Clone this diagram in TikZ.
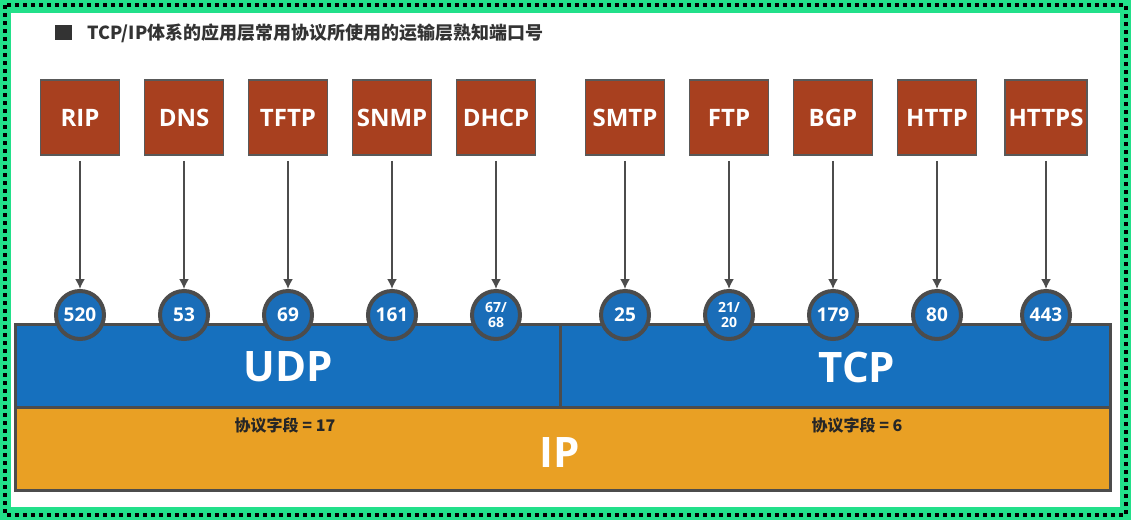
\documentclass[tikz,border=0pt]{standalone}
\usepackage{fontspec}
\setmainfont{Open Sans}
\newfontfamily\cjk{Noto Sans CJK SC}
\begin{document}
\begin{tikzpicture}[x=1pt,y=-1pt,
  proto/.style={draw=gray!70!black,line width=1.5pt,fill=protored,minimum width=79pt,minimum height=75pt,text=white,font=\bfseries\fontsize{24}{24}\selectfont},
  port/.style={circle,draw=gray!60!black,line width=4pt,fill=portblue,minimum size=48pt,inner sep=0pt,text=white,font=\bfseries\fontsize{19}{19}\selectfont,align=center},
  portsm/.style={port,font=\bfseries\fontsize{14}{15}\selectfont},
  arr/.style={draw=gray!60!black,line width=1.8pt,-{Latex[length=10pt,width=10pt]}},
  band/.style={draw=gray!60!black,line width=3pt}]
\usetikzlibrary{arrows.meta}
\definecolor{protored}{HTML}{A8401F}
\definecolor{portblue}{HTML}{1A6DB8}
\definecolor{udpblue}{HTML}{1670BE}
\definecolor{iporange}{HTML}{E9A024}
\definecolor{frameg}{HTML}{22E08A}
\useasboundingbox (0,0) rectangle (1131,520);
\fill[frameg] (0,0) rectangle (1131,520);
\draw[black,line width=4pt,dash pattern=on 4pt off 4pt] (5,5) rectangle (1126,515);
\fill[white] (11,13) rectangle (1120,507);
\fill[gray!40!black] (55,25) rectangle (72,40);
\node[anchor=west,text=gray!40!black,font=\cjk\bfseries\fontsize{18}{18}\selectfont] (title) at (84,33) {TCP/IP体系的应用层常用协议所使用的运输层熟知端口号};
% bands
\node[band,fill=iporange,minimum width=1095pt,minimum height=83pt,inner sep=0pt] (ip) at (562.5,448.5) {};
\node[band,fill=udpblue,minimum width=545pt,minimum height=83pt,inner sep=0pt] (udp) at (287.5,365.5) {};
\node[band,fill=udpblue,minimum width=550pt,minimum height=83pt,inner sep=0pt] (tcp) at (835,365.5) {};
\node[text=white,font=\bfseries\fontsize{42}{42}\selectfont] (udpt) at (288,367) {UDP};
\node[text=white,font=\bfseries\fontsize{42}{42}\selectfont] (tcpt) at (857,367) {TCP};
\node[text=white,font=\bfseries\fontsize{42}{42}\selectfont] (ipt) at (560,452) {IP};
\node[text=black!85,font=\cjk\bfseries\fontsize{16}{16}\selectfont] (p17) at (285,425) {协议字段 = 17};
\node[text=black!85,font=\cjk\bfseries\fontsize{16}{16}\selectfont] (p6) at (857,425) {协议字段 = 6};
% protocols
\foreach \n/\x/\t/\p/\s in {a/80/RIP/520/port,b/184/DNS/53/port,c/288/TFTP/69/port,d/392/SNMP/161/port,e/496/DHCP/{67/\\68}/portsm,f/625/SMTP/25/port,g/729/FTP/{21/\\20}/portsm,h/833/BGP/179/port,i/937/HTTP/80/port,j/1046/HTTPS/443/port}{
  \node[proto] (\n) at (\x,117.5) {\t};
  \node[\s] (\n p) at (\x,315) {\p};
  \draw[arr] (\n.south) ++(0,5) -- (\n p.north);
}
\end{tikzpicture}
\end{document}
